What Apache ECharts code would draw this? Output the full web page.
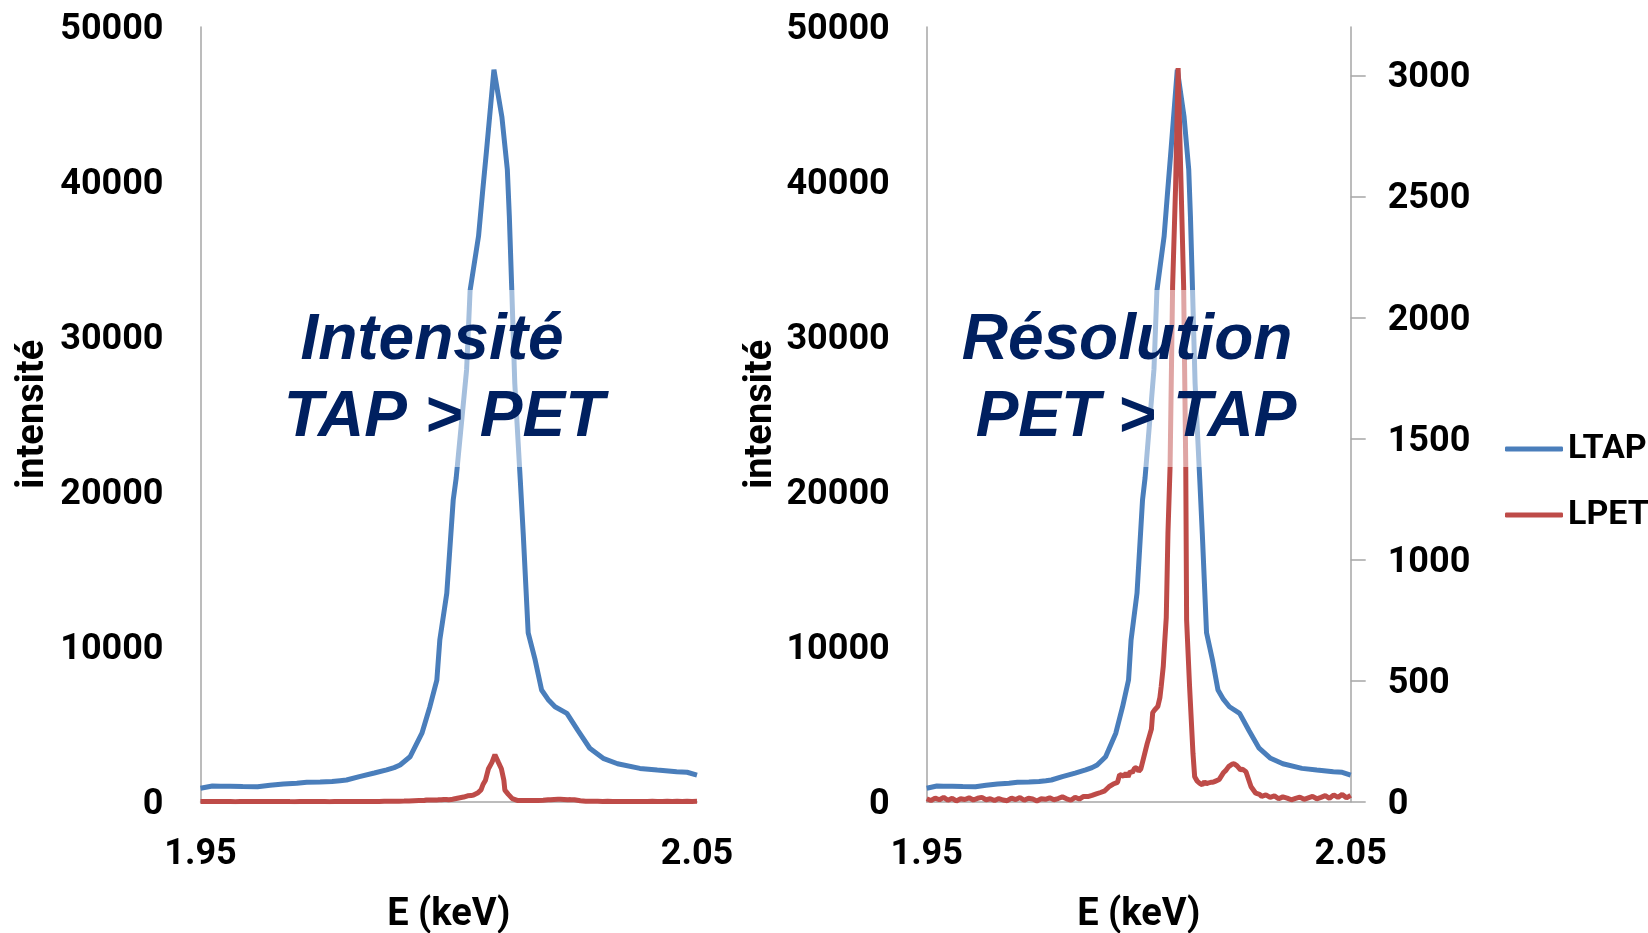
<!DOCTYPE html>
<html>
<head>
<meta charset="utf-8">
<script src="https://cdn.jsdelivr.net/npm/echarts@6/dist/echarts.min.js"></script>
<style>
html,body{margin:0;padding:0;background:#fff;}
#c{width:1648px;height:933px;}
</style>
</head>
<body>
<div id="c"></div>
<script>
// LTAP spectrum (energy keV, intensity)
const tapE = [1.9500,1.9524,1.9540,1.9560,1.9585,1.9615,1.9640,1.9667,1.9694,1.9714,1.9741,1.9765,1.9781,1.9794,1.9820,1.9850,1.9875,1.9890,1.9902,1.9922,1.9946,1.9962,1.9976,1.9982,1.9996,2.0009,2.0015,2.0036,2.0043,2.0060,2.0068,2.0076,2.0091,2.0107,2.0118,2.0122,2.0127,2.0133,2.0144,2.0150,2.0160,2.0174,2.0187,2.0200,2.0214,2.0238,2.0260,2.0284,2.0311,2.0340,2.0385,2.0420,2.0459,2.0480,2.0500];
const tapI = [870,1010,1000,990,975,968,1060,1140,1190,1250,1270,1300,1355,1400,1620,1850,2050,2200,2370,2900,4420,6130,7850,10440,13450,19470,20900,27900,33000,36500,39300,42000,47250,44200,40800,37800,33000,27000,20800,17300,10900,9150,7210,6600,6130,5700,4600,3450,2800,2450,2150,2050,1940,1900,1720];
// LPET spectrum (energy keV, intensity)
const petE = [1.9500,1.9510,1.9520,1.9530,1.9540,1.9550,1.9560,1.9570,1.9580,1.9590,1.9600,1.9610,1.9620,1.9630,1.9640,1.9650,1.9660,1.9670,1.9680,1.9690,1.9700,1.9710,1.9720,1.9730,1.9740,1.9750,1.9760,1.9770,1.9780,1.9790,1.9800,1.9810,1.9820,1.9830,1.9840,1.9850,1.9860,1.9870,1.9880,1.9890,1.9900,1.9910,1.9920,1.9930,1.9940,1.9950,1.9955,1.9960,1.9965,1.9970,1.9975,1.9980,1.9985,1.9990,1.9995,2.0000,2.0005,2.0010,2.0015,2.0020,2.0025,2.0030,2.0033,2.0038,2.0045,2.0050,2.0053,2.0058,2.0061,2.0065,2.0069,2.0074,2.0080,2.0087,2.0093,2.0100,2.0106,2.0111,2.0113,2.0120,2.0128,2.0132,2.0138,2.0144,2.0150,2.0155,2.0160,2.0165,2.0170,2.0175,2.0180,2.0190,2.0200,2.0205,2.0212,2.0220,2.0225,2.0232,2.0240,2.0245,2.0253,2.0265,2.0276,2.0285,2.0290,2.0300,2.0310,2.0320,2.0330,2.0340,2.0350,2.0360,2.0370,2.0380,2.0390,2.0400,2.0410,2.0420,2.0430,2.0440,2.0450,2.0460,2.0470,2.0480,2.0490,2.0500];
const petI = [12,5,15,8,18,6,14,3,12,9,16,7,14,18,8,12,5,13,7,4,15,9,17,6,14,11,3,12,10,16,8,13,20,12,6,18,11,22,21,26,32,38,45,62,73,80,112,110,104,118,103,125,120,138,140,126,135,170,205,240,270,300,368,380,393,430,475,560,650,760,1110,1385,2130,2540,3030,2540,2130,1385,750,475,200,103,85,76,70,82,74,78,80,80,84,92,120,128,145,155,157,148,132,134,124,62,35,30,22,28,18,24,12,20,15,8,14,19,10,16,22,12,18,25,14,28,18,30,16,26];

const xTickLabels = [1.95, 2.05];
const leftTicks = [0, 10000, 20000, 30000, 40000, 50000];
const rightTicks = [0, 500, 1000, 1500, 2000, 2500, 3000];

const tapData = tapE.map((e, i) => [e, tapI[i]]);
const petData = petE.map((e, i) => [e, petI[i]]);

const FONT = 'Roboto';
const AXIS_COLOR = '#A6A6A6';
const BLUE = '#4A7EBB';
const RED = '#BE4B48';
const NAVY = '#002060';
const LW = 5;

const labelStyle = {fontFamily: FONT, fontWeight: 'bold', fontSize: 36, color: '#000'};
const nameStyle = {fontFamily: FONT, fontWeight: 'bold', fontSize: 38, color: '#000'};
const richLabel = {a: {fontFamily: FONT, fontWeight: 'bold', fontSize: 36, color: '#000', padding: [6, 0, 0, 0]}};
const plain = v => '{a|' + String(Math.round(v)) + '}';

function xAxis(gridIndex) {
  return {
    type: 'value', gridIndex, min: 1.95, max: 2.05,
    axisLine: {show: true, lineStyle: {color: AXIS_COLOR, width: 1.5}},
    axisTick: {show: false},
    splitLine: {show: false},
    axisLabel: Object.assign({customValues: xTickLabels, margin: 35, showMinLabel: true, showMaxLabel: true,
      formatter: v => v.toFixed(2)}, labelStyle),
    name: 'E (keV)', nameLocation: 'middle', nameGap: 95, nameTextStyle: nameStyle
  };
}
function yLeft(gridIndex, gap) {
  return {
    type: 'value', gridIndex, min: 0, max: 50000, position: 'left',
    axisLine: {show: true, lineStyle: {color: AXIS_COLOR, width: 1.5}},
    axisTick: {show: false},
    splitLine: {show: false},
    axisLabel: Object.assign({customValues: leftTicks, margin: 37, formatter: plain, rich: richLabel}, labelStyle),
    name: 'intensité', nameLocation: 'middle', nameGap: gap, nameTextStyle: nameStyle
  };
}

const option = {
  animation: false,
  backgroundColor: '#fff',
  grid: [
    {left: 200.5, top: 27, width: 496.5, height: 774.7, outerBoundsMode: 'none'},
    {left: 926.7, top: 27, width: 424, height: 774.7, outerBoundsMode: 'none'}
  ],
  xAxis: [xAxis(0), xAxis(1)],
  yAxis: [
    yLeft(0, 148),
    yLeft(1, 146),
    {
      type: 'value', gridIndex: 1, min: 0, max: 3200, position: 'right',
      axisLine: {show: true, lineStyle: {color: AXIS_COLOR, width: 1.5}},
      axisTick: {show: true, inside: false, length: 15, customValues: rightTicks, lineStyle: {color: AXIS_COLOR, width: 1.5}},
      splitLine: {show: false},
      axisLabel: Object.assign({customValues: rightTicks, margin: 37, formatter: plain, rich: richLabel}, labelStyle)
    }
  ],
  legend: {
    orient: 'vertical', left: 1500, top: 427,
    itemWidth: 58, itemHeight: 5, itemGap: 32,
    icon: 'roundRect',
    data: ['LTAP', 'LPET'],
    textStyle: {fontFamily: FONT, fontWeight: 'bold', fontSize: 34, color: '#000', lineHeight: 34}
  },
  series: [
    {name: 'LTAP', type: 'line', xAxisIndex: 0, yAxisIndex: 0, data: tapData, symbol: 'none', lineStyle: {color: BLUE, width: LW}, itemStyle: {color: BLUE}, z: 2},
    {name: 'LPET', type: 'line', xAxisIndex: 0, yAxisIndex: 0, data: petData, symbol: 'none', lineStyle: {color: RED, width: LW}, itemStyle: {color: RED}, z: 3},
    {name: 'LTAP', type: 'line', xAxisIndex: 1, yAxisIndex: 1, data: tapData, symbol: 'none', lineStyle: {color: BLUE, width: LW}, itemStyle: {color: BLUE}, z: 2},
    {name: 'LPET', type: 'line', xAxisIndex: 1, yAxisIndex: 2, data: petData, symbol: 'none', lineStyle: {color: RED, width: LW}, itemStyle: {color: RED}, z: 3}
  ],
  graphic: [
    {type: 'rect', z: 100, shape: {x: 262, y: 290, width: 356, height: 177}, style: {fill: 'rgba(255,255,255,0.5)'}},
    {type: 'rect', z: 100, shape: {x: 945, y: 290, width: 360, height: 177}, style: {fill: 'rgba(255,255,255,0.5)'}},
    {type: 'text', z: 101, x: 432, y: 341, style: {text: 'Intensité', font: 'italic bold 64px "Liberation Sans", Arial, sans-serif', fill: NAVY, align: 'center', verticalAlign: 'middle', textAlign: 'center', textVerticalAlign: 'middle'}},
    {type: 'text', z: 101, x: 444, y: 418, style: {text: 'TAP > PET', font: 'italic bold 64px "Liberation Sans", Arial, sans-serif', fill: NAVY, align: 'center', verticalAlign: 'middle', textAlign: 'center', textVerticalAlign: 'middle'}},
    {type: 'text', z: 101, x: 1127, y: 341, style: {text: 'Résolution', font: 'italic bold 64px "Liberation Sans", Arial, sans-serif', fill: NAVY, align: 'center', verticalAlign: 'middle', textAlign: 'center', textVerticalAlign: 'middle'}},
    {type: 'text', z: 101, x: 1136, y: 418, style: {text: 'PET > TAP', font: 'italic bold 64px "Liberation Sans", Arial, sans-serif', fill: NAVY, align: 'center', verticalAlign: 'middle', textAlign: 'center', textVerticalAlign: 'middle'}}
  ]
};

const chart = echarts.init(document.getElementById('c'), null, {renderer: 'canvas'});
chart.setOption(option);
</script>
</body>
</html>
